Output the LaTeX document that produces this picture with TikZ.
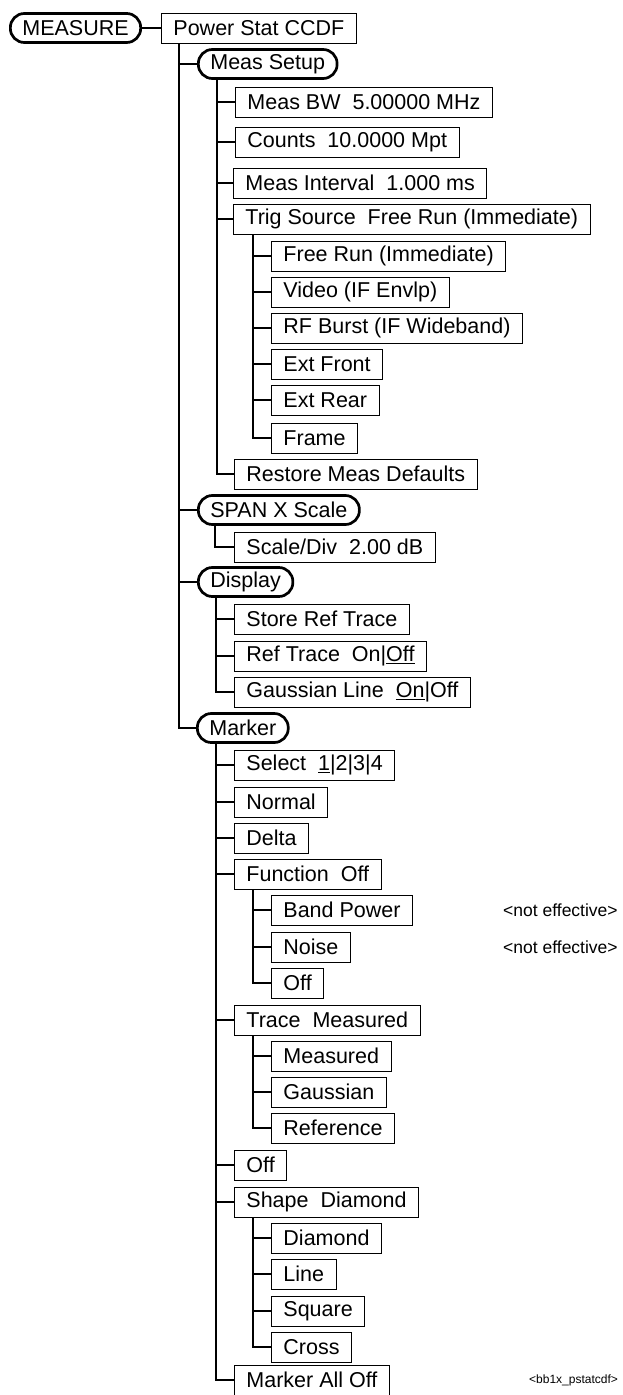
\documentclass[tikz,border=0pt]{standalone}
\usepackage{fontspec}
\setmainfont{Liberation Sans}
\begin{document}
\begin{tikzpicture}[x=1bp,y=-1bp,
  rbox/.style={draw, line width=2.7bp, rounded corners=14bp, minimum height=29bp, inner xsep=12bp, inner ysep=0pt, anchor=west, font=\fontsize{21.5bp}{26bp}\selectfont},
  sbox/.style={draw, line width=0.9bp, minimum height=30bp, inner xsep=12bp, inner ysep=0pt, anchor=west, font=\fontsize{21.5bp}{26bp}\selectfont},
  conn/.style={line width=1.1bp},
  note/.style={anchor=west, inner sep=0pt, font=\fontsize{17.5bp}{20bp}\selectfont},
  tag/.style={anchor=west, inner sep=0pt, font=\fontsize{12bp}{14bp}\selectfont}]
\useasboundingbox (0,0) rectangle (623,1395);
\node[rbox] (measure) at (9,28) {MEASURE};
\node[sbox] (ps) at (161,28) {Power Stat CCDF};
\node[rbox] (ms) at (197,64) {Meas Setup};
\node[sbox] (bw) at (235,102) {Meas BW\ \ 5.00000 MHz};
\node[sbox] (cnt) at (235,142) {Counts\ \ 10.0000 Mpt};
\node[sbox] (mi) at (233,183) {Meas Interval\ \ 1.000 ms};
\node[sbox] (ts) at (233,219) {Trig Source\ \ Free Run (Immediate)};
\node[sbox] (fr) at (271,256) {Free Run (Immediate)};
\node[sbox] (vid) at (271,292) {Video (IF Envlp)};
\node[sbox] (rfb) at (271,328) {RF Burst (IF Wideband)};
\node[sbox] (ef) at (271,364) {Ext Front};
\node[sbox] (er) at (271,400) {Ext Rear};
\node[sbox] (frm) at (271,438) {Frame};
\node[sbox] (rmd) at (234,474) {Restore Meas Defaults};
\node[rbox] (span) at (197,510) {SPAN X Scale};
\node[sbox] (sd) at (234,547) {Scale/Div\ \ 2.00 dB};
\node[rbox] (disp) at (197,582) {Display};
\node[sbox] (srt) at (234,619) {Store Ref Trace};
\node[sbox] (rt) at (234,656) {Ref Trace\ \ On|\underline{Off}};
\node[sbox] (gl) at (234,692) {Gaussian Line\ \ \underline{On}|Off};
\node[rbox] (mk) at (196,728) {Marker};
\node[sbox] (sel) at (234,765) {Select\ \ \underline{1}|2|3|4};
\node[sbox] (nor) at (234,802) {Normal};
\node[sbox] (del) at (234,838) {Delta};
\node[sbox] (fun) at (234,874) {Function\ \ Off};
\node[sbox] (bp) at (271,910) {Band Power};
\node[sbox] (noi) at (271,947) {Noise};
\node[sbox] (foff) at (271,983) {Off};
\node[sbox] (tm) at (234,1020) {Trace\ \ Measured};
\node[sbox] (tmm) at (271,1056) {Measured};
\node[sbox] (tg) at (271,1092) {Gaussian};
\node[sbox] (tr) at (271,1128) {Reference};
\node[sbox] (moff) at (234,1165) {Off};
\node[sbox] (sh) at (234,1202) {Shape\ \ Diamond};
\node[sbox] (dia) at (271,1238) {Diamond};
\node[sbox] (lin) at (271,1274) {Line};
\node[sbox] (sq) at (271,1311) {Square};
\node[sbox] (cr) at (271,1347) {Cross};
\node[sbox] (mao) at (234,1380) {Marker All Off};
\node[note] (ne1) at (503,910) {<not effective>};
\node[note] (ne2) at (503,947) {<not effective>};
\node[tag] (id) at (529,1380) {<bb1x\_pstatcdf>};
% connectors
\draw[conn] (measure.east) -- (ps.west);
\foreach \c in {ms,span,disp,mk}
  \draw[conn] ([xshift=18bp]ps.south west) |- (\c.west);
\foreach \c in {bw,cnt,mi,ts,rmd}
  \draw[conn] ([xshift=20bp]ms.south west) |- (\c.west);
\foreach \c in {fr,vid,rfb,ef,er,frm}
  \draw[conn] ([xshift=20bp]ts.south west) |- (\c.west);
\draw[conn] ([xshift=18bp]span.south west) |- (sd.west);
\foreach \c in {srt,rt,gl}
  \draw[conn] ([xshift=19bp]disp.south west) |- (\c.west);
\foreach \c in {sel,nor,del,fun,tm,moff,sh,mao}
  \draw[conn] ([xshift=20bp]mk.south west) |- (\c.west);
\foreach \c in {bp,noi,foff}
  \draw[conn] ([xshift=19bp]fun.south west) |- (\c.west);
\foreach \c in {tmm,tg,tr}
  \draw[conn] ([xshift=19bp]tm.south west) |- (\c.west);
\foreach \c in {dia,lin,sq,cr}
  \draw[conn] ([xshift=19bp]sh.south west) |- (\c.west);
\end{tikzpicture}
\end{document}
